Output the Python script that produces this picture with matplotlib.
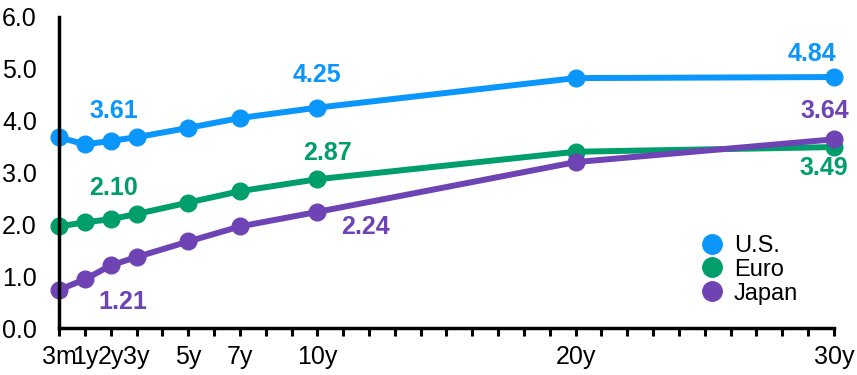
import matplotlib.pyplot as plt
from matplotlib.ticker import MultipleLocator

plt.rcParams['font.family'] = ['Liberation Sans', 'DejaVu Sans']

maturities = [0, 1, 2, 3, 5, 7, 10, 20, 30]
tick_labels = ["3m", "1y", "2y", "3y", "5y", "7y", "10y", "20y", "30y"]

us = [3.68, 3.54, 3.61, 3.68, 3.86, 4.05, 4.25, 4.82, 4.84]
euro = [1.96, 2.04, 2.10, 2.20, 2.42, 2.64, 2.87, 3.40, 3.49]
japan = [0.74, 0.94, 1.21, 1.37, 1.67, 1.96, 2.24, 3.20, 3.64]

c_us = "#0A96FA"
c_euro = "#009E6A"
c_japan = "#6E44B5"

fig = plt.figure(figsize=(8.57, 3.75), dpi=100)
ax = fig.add_axes([0.069, 0.125, 0.904, 0.83])

for vals, col, name in [(us, c_us, "U.S."), (euro, c_euro, "Euro"), (japan, c_japan, "Japan")]:
    ax.plot(maturities, vals, color=col, lw=4.3, marker="o", ms=12,
            label=name, solid_capstyle="round", clip_on=False)

# data labels
lbl = dict(fontsize=18, fontweight="bold", ha="center", va="center")
ax.text(2.1, 4.19, f"{us[2]:.2f}", color=c_us, **lbl)
ax.text(2.1, 2.71, f"{euro[2]:.2f}", color=c_euro, **lbl)
ax.text(2.45, 0.5, f"{japan[2]:.2f}", color=c_japan, **lbl)
ax.text(10, 4.87, f"{us[6]:.2f}", color=c_us, **lbl)
ax.text(10.4, 3.37, f"{euro[6]:.2f}", color=c_euro, **lbl)
ax.text(11.85, 1.94, f"{japan[6]:.2f}", color=c_japan, **lbl)
ax.text(29.15, 5.29, f"{us[8]:.2f}", color=c_us, **lbl)
ax.text(29.65, 4.19, f"{japan[8]:.2f}", color=c_japan, **lbl)
ax.text(29.6, 3.08, f"{euro[8]:.2f}", color=c_euro, **lbl)

ax.set_xlim(0, 30)
ax.set_ylim(0, 6)
ax.set_yticks([0, 1, 2, 3, 4, 5, 6])
ax.set_yticklabels([f"{v:.1f}" for v in range(7)])
ax.set_xticks(maturities)
ax.set_xticklabels(tick_labels)
ax.xaxis.set_minor_locator(MultipleLocator(1))

for s in ["top", "right"]:
    ax.spines[s].set_visible(False)
for s in ["left", "bottom"]:
    ax.spines[s].set_linewidth(2.5)

ax.tick_params(axis="x", which="both", direction="out", length=6, width=2.2,
               labelsize=18, pad=6)
ax.tick_params(axis="y", length=0, labelsize=18, pad=16)

leg = ax.legend(loc="upper left", bbox_to_anchor=(0.822, 0.33), frameon=False,
                fontsize=17, handlelength=0.6, handletextpad=0.6,
                labelspacing=0.08, borderaxespad=0)
for h in leg.legend_handles:
    h.set_linestyle("")
    h.set_markersize(14)

fig.savefig("out.png", dpi=100)
